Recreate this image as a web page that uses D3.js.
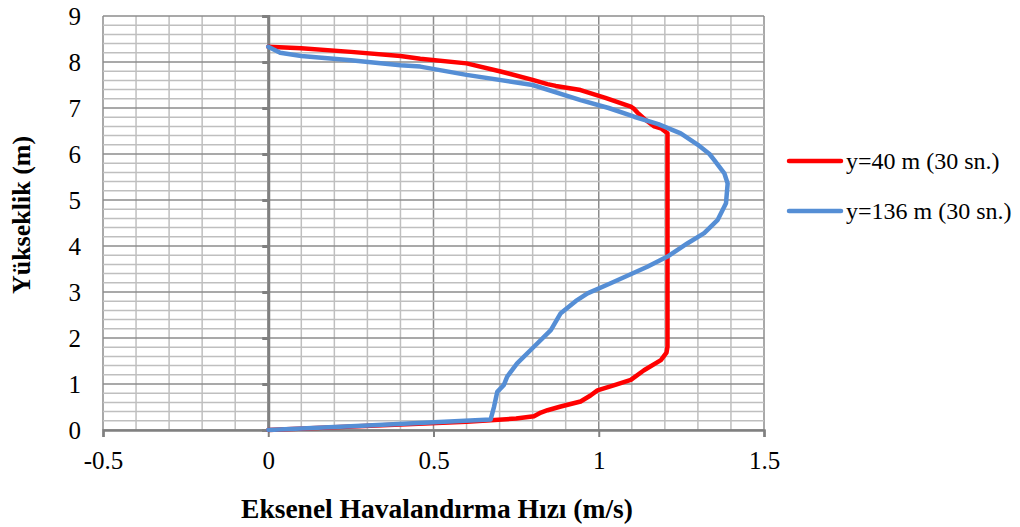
<!DOCTYPE html>
<html>
<head>
<meta charset="utf-8">
<script src="https://cdn.jsdelivr.net/npm/d3@7"></script>
<style>
body{margin:0;background:#fff;}
text{font-family:"Liberation Serif","Times New Roman",serif;fill:#000;}
</style>
</head>
<body>
<div id="chart"></div>
<script>
// values
var redSpeed  = [0,0.2,0.4,0.6,0.673,0.75,0.804,0.825,0.845,0.885,0.945,0.975,0.996,1.05,1.097,1.137,1.188,1.205,1.208,1.208,1.208,1.208,1.19,1.168,1.14,1.117,1.107,1.097,1.02,0.945,0.87,0.845,0.80,0.7,0.6,0.46,0.4,0.25,0.1,0];
var redHeight = [0,0.06,0.12,0.18,0.21,0.25,0.30,0.38,0.43,0.51,0.62,0.75,0.86,0.98,1.09,1.30,1.52,1.68,1.81,3,5,6.45,6.55,6.6,6.75,6.9,6.98,7.03,7.22,7.39,7.48,7.52,7.61,7.8,7.97,8.07,8.13,8.22,8.3,8.33];
var blueSpeed  = [0,0.3,0.673,0.683,0.693,0.713,0.723,0.753,0.804,0.855,0.885,0.93,0.966,1.036,1.147,1.208,1.269,1.319,1.36,1.385,1.39,1.38,1.349,1.335,1.30,1.248,1.18,1.107,1.03,0.945,0.80,0.6,0.46,0.4,0.25,0.1,0.036,0];
var blueHeight = [0,0.1,0.23,0.5,0.83,0.98,1.16,1.45,1.81,2.17,2.54,2.8,2.97,3.19,3.55,3.77,4.06,4.28,4.57,4.93,5.36,5.58,5.87,6.0,6.2,6.45,6.65,6.81,7.0,7.17,7.5,7.72,7.9,7.93,8.04,8.13,8.2,8.33];
var seriesNames = ["y=40 m (30 sn.)","y=136 m (30 sn.)"];
var seriesColors = ["#ff0000","#558ed5"];
var xTicks = [-0.5,0,0.5,1,1.5];
var yTicks = [0,1,2,3,4,5,6,7,8,9];

var svg = d3.select("#chart").append("svg").attr("width",1020).attr("height",527);

var x = d3.scaleLinear().domain([-0.5,1.5]).range([103,764]);
var y = d3.scaleLinear().domain([0,9]).range([430,16]);

// gridlines
var grid = svg.append("g");
d3.range(0,21).forEach(function(i){
  var v = -0.5 + i*0.1;
  grid.append("line").attr("x1",x(v)).attr("x2",x(v)).attr("y1",y(0)).attr("y2",y(9))
    .attr("stroke", i%5==0 ? "#8c8c8c" : "#bfbfbf").attr("stroke-width",1.5);
});
d3.range(0,46).forEach(function(i){
  var v = i*0.2;
  grid.append("line").attr("x1",x(-0.5)).attr("x2",x(1.5)).attr("y1",y(v)).attr("y2",y(v))
    .attr("stroke", i%5==0 ? "#8c8c8c" : "#bfbfbf").attr("stroke-width",1.5);
});

// vertical axis at x=0 with ticks, labels kept at the far left
var yAxis = svg.append("g").attr("transform","translate("+x(0)+",0)")
  .call(d3.axisLeft(y).tickValues(yTicks).tickSize(6).tickFormat(""));
yAxis.select(".domain").attr("stroke","#808080").attr("stroke-width",3);
yAxis.selectAll(".tick line").attr("stroke","#808080").attr("stroke-width",3);

var yLabels = svg.append("g").attr("transform","translate("+x(-0.5)+",0)")
  .call(d3.axisLeft(y).tickValues(yTicks).tickSize(0).tickPadding(22).tickFormat(function(d){return String(d);}));
yLabels.select(".domain").remove();
yLabels.selectAll("text").style("font-size","25px").style("font-family","Liberation Serif");

var xAxis = svg.append("g").attr("transform","translate(0,"+y(0)+")")
  .call(d3.axisBottom(x).tickValues(xTicks).tickSize(7).tickPadding(14).tickFormat(function(d){return String(d);}));
xAxis.select(".domain").attr("stroke","#808080").attr("stroke-width",2.5);
xAxis.selectAll(".tick line").attr("stroke","#808080").attr("stroke-width",2);
xAxis.selectAll("text").style("font-size","25px").style("font-family","Liberation Serif");

// curves
var line = d3.line().x(function(d){return x(d[0]);}).y(function(d){return y(d[1]);}).curve(d3.curveLinear);
var redPts = redSpeed.map(function(v,i){return [v,redHeight[i]];});
var bluePts = blueSpeed.map(function(v,i){return [v,blueHeight[i]];});
[redPts,bluePts].forEach(function(pts,k){
  svg.append("path").attr("d",line(pts)).attr("fill","none")
    .attr("stroke",seriesColors[k]).attr("stroke-width",4.5)
    .attr("stroke-linejoin","round").attr("stroke-linecap","round");
});

// legend
seriesNames.forEach(function(n,k){
  var ly = 161 + k*50;
  svg.append("line").attr("x1",789).attr("x2",841).attr("y1",ly).attr("y2",ly)
    .attr("stroke",seriesColors[k]).attr("stroke-width",4.5).attr("stroke-linecap","round");
  svg.append("text").attr("x",846).attr("y",ly+8).style("font-size","24px").text(n);
});

// axis titles
svg.append("text").attr("x",437).attr("y",518).attr("text-anchor","middle")
  .style("font-size","27.5px").style("font-weight","bold").text("Eksenel Havalandırma Hızı (m/s)");
svg.append("text").attr("transform","translate(30,215)rotate(-90)").attr("text-anchor","middle")
  .style("font-size","26px").style("font-weight","bold").text("Yükseklik (m)");
</script>
</body>
</html>
